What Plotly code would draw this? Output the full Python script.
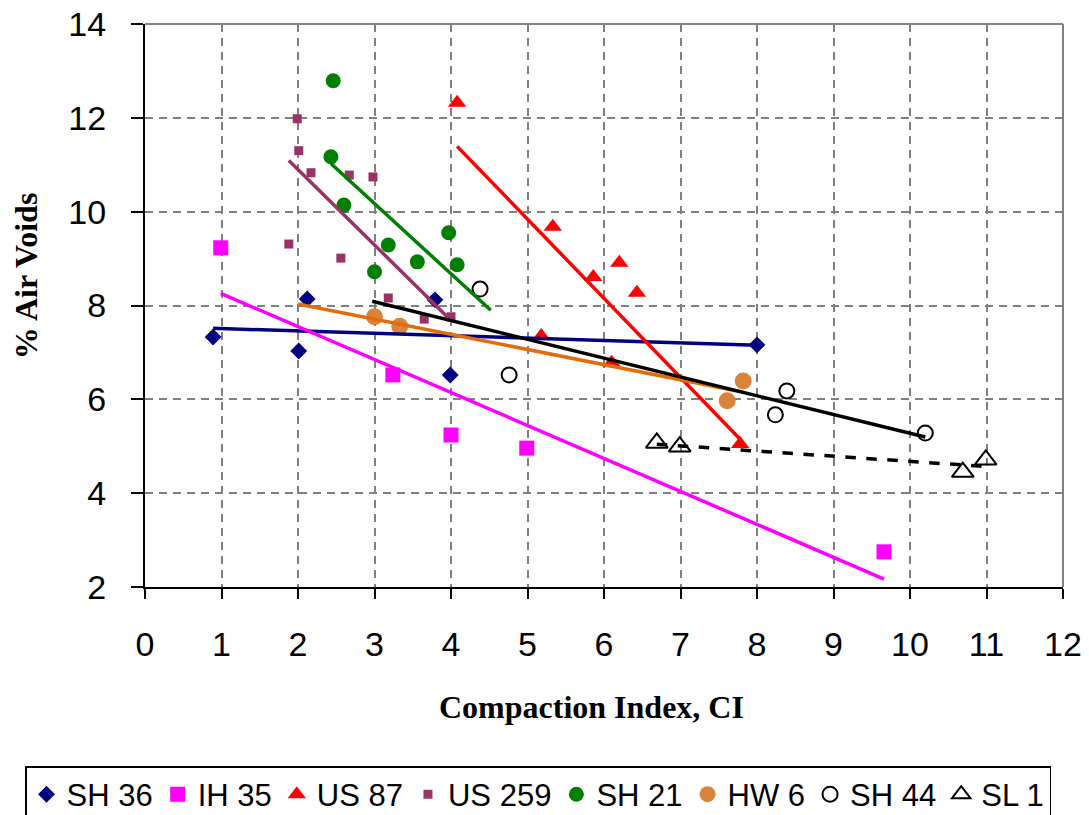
import numpy as np
import plotly.graph_objects as go

# ---------------- data ----------------
series_names = ["SH 36", "IH 35", "US 87", "US 259", "SH 21", "HW 6", "SH 44", "SL 1"]

sh36_ci = [0.89, 2.01, 2.12, 3.79, 3.99, 8.00]
sh36_av = [7.33, 7.03, 8.14, 8.12, 6.52, 7.16]

ih35_ci = [0.99, 3.24, 4.00, 4.99, 9.66]
ih35_av = [9.23, 6.52, 5.24, 4.96, 2.75]

us87_ci = [4.08, 5.18, 5.33, 5.86, 6.10, 6.20, 6.43, 7.78]
us87_av = [12.32, 7.35, 9.68, 8.61, 6.78, 8.91, 8.27, 5.05]

us259_ci = [1.88, 1.99, 2.01, 2.17, 2.56, 2.67, 2.98, 3.18, 3.65, 4.00]
us259_av = [9.31, 11.98, 11.30, 10.83, 9.01, 10.78, 10.74, 8.16, 7.71, 7.76]

sh21_ci = [2.43, 2.46, 2.60, 3.00, 3.18, 3.56, 3.97, 4.08]
sh21_av = [11.17, 12.79, 10.14, 8.72, 9.29, 8.93, 9.55, 8.87]

hw6_ci = [3.00, 3.33, 7.61, 7.82]
hw6_av = [7.76, 7.56, 5.97, 6.39]

sh44_ci = [4.38, 4.76, 8.24, 8.39, 10.20]
sh44_av = [8.35, 6.52, 5.67, 6.18, 5.28]

sl1_ci = [6.69, 6.99, 10.69, 10.99]
sl1_av = [5.07, 4.99, 4.45, 4.71]

# trendline forecast extents (backward, forward) in CI units
trend_backward = [0, 0, 0, 0, 0, 1.0, 1.41, 0]
trend_forward = [0, 0, 0, 0, 0.44, 0, 0, 0]

x_ticks = list(range(0, 13))
y_ticks = list(range(2, 15, 2))

# ---------------- styles ----------------
xs = [sh36_ci, ih35_ci, us87_ci, us259_ci, sh21_ci, hw6_ci, sh44_ci, sl1_ci]
ys = [sh36_av, ih35_av, us87_av, us259_av, sh21_av, hw6_av, sh44_av, sl1_av]

marker_styles = [
    dict(symbol="diamond", size=13, color="#000080"),
    dict(symbol="square", size=15, color="#FF00FF"),
    dict(symbol="triangle-up", size=16, color="#FF0000"),
    dict(symbol="square", size=9, color="#993366"),
    dict(symbol="circle", size=15, color="#008000"),
    dict(symbol="circle", size=17, color="#D9843C"),
    dict(symbol="circle-open", size=15, color="#000000", line=dict(width=2, color="#000000")),
    dict(symbol="triangle-up-open", size=19, color="#000000", line=dict(width=2, color="#000000")),
]
line_colors = ["#000080", "#FF00FF", "#FF0000", "#993366", "#008000", "#E46C0A", "#000000", "#000000"]
line_dashes = ["solid"] * 7 + ["dash"]

FONT = "Liberation Sans, Arial, sans-serif"
SERIF = "Liberation Serif, Times New Roman, serif"

fig = go.Figure()

for name, x, y, ms in zip(series_names, xs, ys, marker_styles):
    fig.add_trace(go.Scatter(x=x, y=y, mode="markers", name=name, marker=ms,
                             showlegend=True))

for name, x, y, c, d, b, f in zip(series_names, xs, ys, line_colors, line_dashes,
                                  trend_backward, trend_forward):
    slope, intercept = np.polyfit(x, y, 1)
    x0 = min(x) - b
    x1 = max(x) + f
    fig.add_trace(go.Scatter(x=[x0, x1], y=[slope * x0 + intercept, slope * x1 + intercept],
                             mode="lines", line=dict(color=c, width=3.5, dash=d),
                             showlegend=False, hoverinfo="skip", name=name + " trend"))

grid = dict(showgrid=True, gridcolor="#808080", gridwidth=1.5, griddash="8px,6px",
            zeroline=False, showline=True, linecolor="black", linewidth=2,
            ticks="outside", tickcolor="black", tickwidth=2,
            tickfont=dict(family=FONT, size=34, color="black"))

fig.update_xaxes(range=[0, 12], tickvals=x_ticks, ticklen=10, ticklabelstandoff=16, **grid)
fig.update_yaxes(range=[2, 14], tickvals=y_ticks, ticklen=12, ticklabelstandoff=18, **grid)

fig.update_layout(
    width=1089, height=815,
    margin=dict(l=145, r=26, t=24, b=228, autoexpand=False),
    plot_bgcolor="white", paper_bgcolor="white",
    showlegend=True,
    legend=dict(orientation="h", x=-0.1307, xanchor="left", y=-0.318, yanchor="top",
                bordercolor="black", borderwidth=1.5, bgcolor="white",
                font=dict(family=FONT, size=31, color="black"),
                itemwidth=30, tracegroupgap=0),
    shapes=[
        dict(type="line", xref="paper", yref="paper", x0=0, x1=1, y0=1, y1=1,
             line=dict(color="#808080", width=2)),
        dict(type="line", xref="paper", yref="paper", x0=1, x1=1, y0=0, y1=1,
             line=dict(color="#808080", width=2)),
    ],
    annotations=[
        dict(text="<b>Compaction Index, CI</b>", xref="paper", yref="paper",
             x=0.486, y=-0.213, xanchor="center", yanchor="middle", showarrow=False,
             font=dict(family=SERIF, size=32, color="black")),
        dict(text="<b>% Air Voids</b>", xref="paper", yref="paper", textangle=-90,
             x=-0.1296, y=0.552, xanchor="center", yanchor="middle", showarrow=False,
             font=dict(family=SERIF, size=32, color="black")),
    ],
)

fig.write_html("out.html", config={"displayModeBar": False},
               post_script="document.body.style.margin='0';")
